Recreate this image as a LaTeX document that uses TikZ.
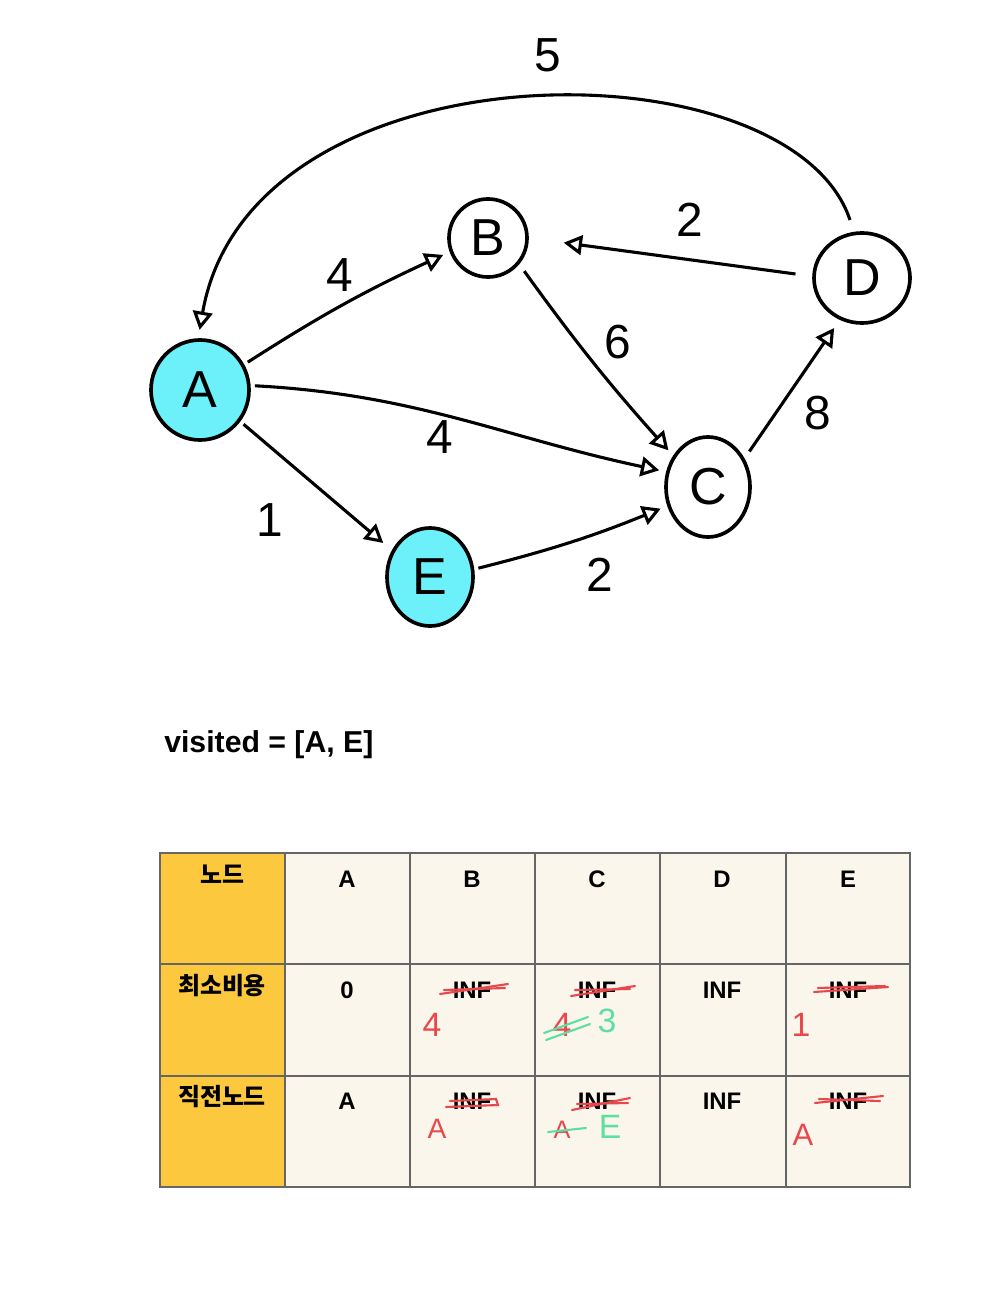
\documentclass[tikz,border=0pt]{standalone}
\usepackage{fontspec}
\setmainfont{Liberation Sans}
\newfontfamily\krfont{Noto Sans CJK KR}
\usetikzlibrary{arrows.meta,shapes.geometric}

\definecolor{visitcyan}{RGB}{108,240,250}
\definecolor{hdryellow}{RGB}{252,201,62}
\definecolor{cellbg}{RGB}{250,246,236}
\definecolor{gridgray}{RGB}{102,102,102}
\definecolor{penred}{RGB}{232,72,76}
\definecolor{pengreen}{RGB}{94,222,160}

\tikzset{
  vtx/.style={ellipse, draw, line width=2.6pt, inner sep=0pt,
    font=\fontsize{37}{44}\selectfont},
  seen/.style={fill=visitcyan},
  edge/.style={line width=2.2pt,
    -{Triangle[open,length=13pt,width=14pt,line width=2.2pt]},
    shorten >=5pt, shorten <=3pt},
  wt/.style={font=\fontsize{34}{40}\selectfont},
  cell/.style={anchor=base, font=\bfseries\fontsize{17}{20}\selectfont},
  krcell/.style={anchor=base, font=\krfont\bfseries\fontsize{17}{20}\selectfont},
  redpen/.style={draw=penred, line width=1.5pt, line cap=round},
  greenpen/.style={draw=pengreen, line width=1.5pt, line cap=round},
  redtxt/.style={text=penred, font=\fontsize{24}{28}\selectfont},
  greentxt/.style={text=pengreen, font=\fontsize{24}{28}\selectfont}
}

\begin{document}
\begin{tikzpicture}[x=0.025cm, y=-0.025cm]
\useasboundingbox (0,0) rectangle (1000,1312);

% graph
\node[vtx, seen, minimum width=2.45cm, minimum height=2.5cm] (A) at (200,390) {A};
\node[vtx, minimum width=1.95cm, minimum height=1.95cm] (B) at (488,238) {B};
\node[vtx, minimum width=2.1cm, minimum height=2.5cm] (C) at (708,487) {C};
\node[vtx, minimum width=2.4cm, minimum height=2.25cm] (D) at (862,278) {D};
\node[vtx, seen, minimum width=2.15cm, minimum height=2.45cm] (E) at (430,577) {E};

\draw[edge] (A.30) to[bend left=4] (B.200);
\draw[edge] (A.5) to[out=-3,in=168] (C.160);
\draw[edge, shorten >=8pt] (A.-38) -- (E.145);
\draw[edge] (E.10) to[bend left=-4] (C.205);
\draw[edge, shorten <=6pt] (B.-40) to[bend left=-3] (C.138);
\draw[edge, shorten <=6pt, shorten >=7pt] (C.38) -- (D.242);
\draw[edge, shorten <=12pt, shorten >=25pt] (D.178) -- (B.0);
\coordinate (Dtop) at (850,220);
\draw[edge, shorten <=0pt, shorten >=6pt] (Dtop) .. controls (790,40) and (250,40) .. (A.92);

\node[wt] (w5) at (548,55) {5};
\node[wt] (wAB) at (340,275) {4};
\node[wt] (wAC) at (440,437) {4};
\node[wt] (wAE) at (270,520) {1};
\node[wt] (wEC) at (600,575) {2};
\node[wt] (wBC) at (618,342) {6};
\node[wt] (wCD) at (818,413) {8};
\node[wt] (wDB) at (690,220) {2};

\node[anchor=base west, inner sep=0pt, font=\bfseries\fontsize{21.5}{26}\selectfont] (visited) at (164,752) {visited = [A, E]};

% table
\fill[hdryellow] (160,853) rectangle (285,1187);
\fill[cellbg] (285,853) rectangle (910,1187);
\draw[gridgray, line width=1.8pt] (160,853) rectangle (910,1187);
\draw[gridgray, line width=1.8pt] (285,853) -- (285,1187);
\draw[gridgray, line width=1.8pt] (410,853) -- (410,1187);
\draw[gridgray, line width=1.8pt] (535,853) -- (535,1187);
\draw[gridgray, line width=1.8pt] (660,853) -- (660,1187);
\draw[gridgray, line width=1.8pt] (786,853) -- (786,1187);
\draw[gridgray, line width=1.8pt] (160,964) -- (910,964);
\draw[gridgray, line width=1.8pt] (160,1076) -- (910,1076);

\node[krcell] (h0) at (222,883) {노드};
\node[cell] (hA) at (347,887) {A};
\node[cell] (hB) at (472,887) {B};
\node[cell] (hC) at (597,887) {C};
\node[cell] (hD) at (722,887) {D};
\node[cell] (hE) at (848,887) {E};

\node[krcell] (r10) at (222,994) {최소비용};
\node[cell] (r1A) at (347,998) {0};
\node[cell] (r1B) at (472,998) {INF};
\node[cell] (r1C) at (597,998) {INF};
\node[cell] (r1D) at (722,998) {INF};
\node[cell] (r1E) at (848,998) {INF};

\node[krcell] (r20) at (222,1105) {직전노드};
\node[cell] (r2A) at (347,1109) {A};
\node[cell] (r2B) at (472,1109) {INF};
\node[cell] (r2C) at (597,1109) {INF};
\node[cell] (r2D) at (722,1109) {INF};
\node[cell] (r2E) at (848,1109) {INF};

% corrections
\draw[redpen] (440,994) -- (508,984);
\draw[redpen] (444,990) -- (505,988);
\draw[redpen] (571,996) -- (635,986);
\draw[redpen] (575,990) -- (630,989);
\draw[redpen] (814,992) -- (888,987);
\draw[redpen] (818,988) -- (885,986);
\draw[redpen] (446,1107) -- (498,1105) -- (496,1099) -- (450,1101);
\draw[redpen] (572,1110) -- (630,1098);
\draw[redpen] (577,1104) -- (628,1103);
\draw[redpen] (815,1103) -- (883,1096);
\draw[redpen] (819,1099) -- (880,1101);

\node[redtxt] (nB) at (432,1025) {4};
\node[redtxt] (nC) at (562,1025) {4};
\draw[greenpen] (544,1033) -- (588,1017);
\draw[greenpen] (546,1040) -- (590,1024);
\node[greentxt] (nC2) at (607,1021) {3};
\node[redtxt] (nE) at (801,1025) {1};
\node[redtxt, font=\fontsize{20}{24}\selectfont] (pB) at (437,1129) {A};
\node[redtxt, font=\fontsize{18}{22}\selectfont] (pC) at (562,1130) {A};
\draw[greenpen] (548,1132) -- (586,1128);
\node[greentxt] (pC2) at (610,1127) {E};
\node[redtxt, font=\fontsize{22}{26}\selectfont] (pE) at (803,1135) {A};
\end{tikzpicture}
\end{document}
